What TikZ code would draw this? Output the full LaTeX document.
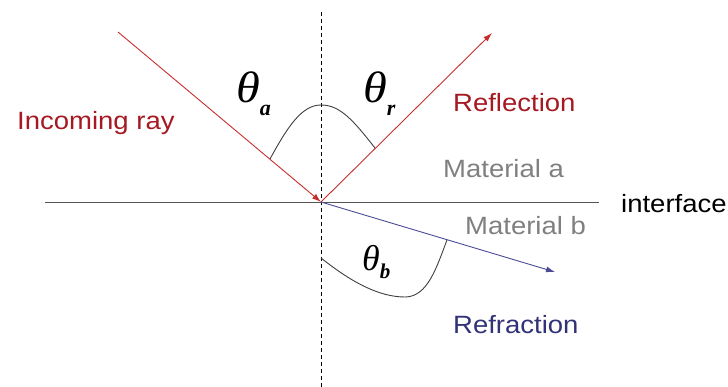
\documentclass[tikz,border=0pt]{standalone}
\usepackage{fontspec}
\setmainfont{Liberation Sans}
\newfontfamily\thetafont{Liberation Serif}
\usetikzlibrary{arrows.meta}
\definecolor{rayred}{RGB}{200,45,45}
\definecolor{txtred}{RGB}{165,25,35}
\definecolor{rayblue}{RGB}{75,75,150}
\definecolor{txtblue}{RGB}{50,50,120}
\definecolor{matgray}{RGB}{128,128,128}
\definecolor{ifgray}{RGB}{85,85,85}
\tikzset{
  lbl/.style={anchor=base west, inner sep=0pt, font=\fontsize{25}{25}\selectfont},
  ray/.style={line width=0.9pt, -{Latex[length=9pt,width=6pt]}},
  anglecurve/.style={line width=0.9pt, draw=black!75},
}
\newcommand{\wide}[1]{\scalebox{1.1}[1]{#1}}
\begin{document}
\begin{tikzpicture}[x=1pt,y=-1pt]
\useasboundingbox (0,0) rectangle (728,387);
% key points
\coordinate (O) at (321,202);
\coordinate (A) at (118,32);
\coordinate (R) at (492,33);
\coordinate (B) at (555,272);
\coordinate (Ntop) at (321,12);
\coordinate (Nbot) at (321,387);
\coordinate (Ileft) at (45,202);
\coordinate (Iright) at (599,202);
% normal and interface
\draw[line width=0.8pt, dash pattern=on 4pt off 3pt] (Ntop) -- (Nbot);
\draw[line width=0.9pt, ifgray] (Ileft) -- (Iright);
% rays
\draw[ray, rayred] (A) -- (O);
\draw[ray, rayred] (O) -- (R);
\draw[ray, rayblue] (O) -- (B);
% angle curves
\coordinate (P1) at (270,159);
\coordinate (Pk) at (321,105);
\coordinate (P2) at (375,148);
\draw[anglecurve] (P1) .. controls (288,126) and (302,105) .. (Pk)
                       .. controls (340,105) and (353,120) .. (P2);
\coordinate (Q1) at (321,258);
\coordinate (Qb) at (405,297);
\coordinate (Q2) at (447,240);
\draw[anglecurve] (Q1) .. controls (350,281) and (378,297) .. (Qb)
                       .. controls (428,297) and (437,266) .. (Q2);
% angle labels
\node[anchor=base west, inner sep=0pt] (ta) at (236,103)
  {\thetafont\scalebox{1.1}[1]{\fontsize{44}{44}\selectfont\itshape θ}\raisebox{-13pt}{\fontsize{22}{22}\selectfont\bfseries\itshape a}};
\node[anchor=base west, inner sep=0pt] (tr) at (363,103)
  {\thetafont\scalebox{1.1}[1]{\fontsize{44}{44}\selectfont\itshape θ}\raisebox{-13pt}{\fontsize{22}{22}\selectfont\bfseries\itshape r}};
\node[anchor=base west, inner sep=0pt] (tb) at (362,271)
  {\thetafont\fontsize{36}{36}\selectfont\itshape θ\raisebox{-8pt}{\fontsize{21}{21}\selectfont\bfseries\itshape b}};
% text labels
\node[lbl, txtred] (inc) at (17,130) {\wide{Incoming ray}};
\node[lbl, txtred] (refl) at (453,112) {\wide{Reflection}};
\node[lbl, matgray] (ma) at (443,178) {\wide{Material a}};
\node[lbl, matgray] (mb) at (465,235) {\wide{Material b}};
\node[lbl, txtblue] (refr) at (453,333) {\wide{Refraction}};
\node[lbl, black] (intf) at (621,213) {\wide{interface}};
\end{tikzpicture}
\end{document}
